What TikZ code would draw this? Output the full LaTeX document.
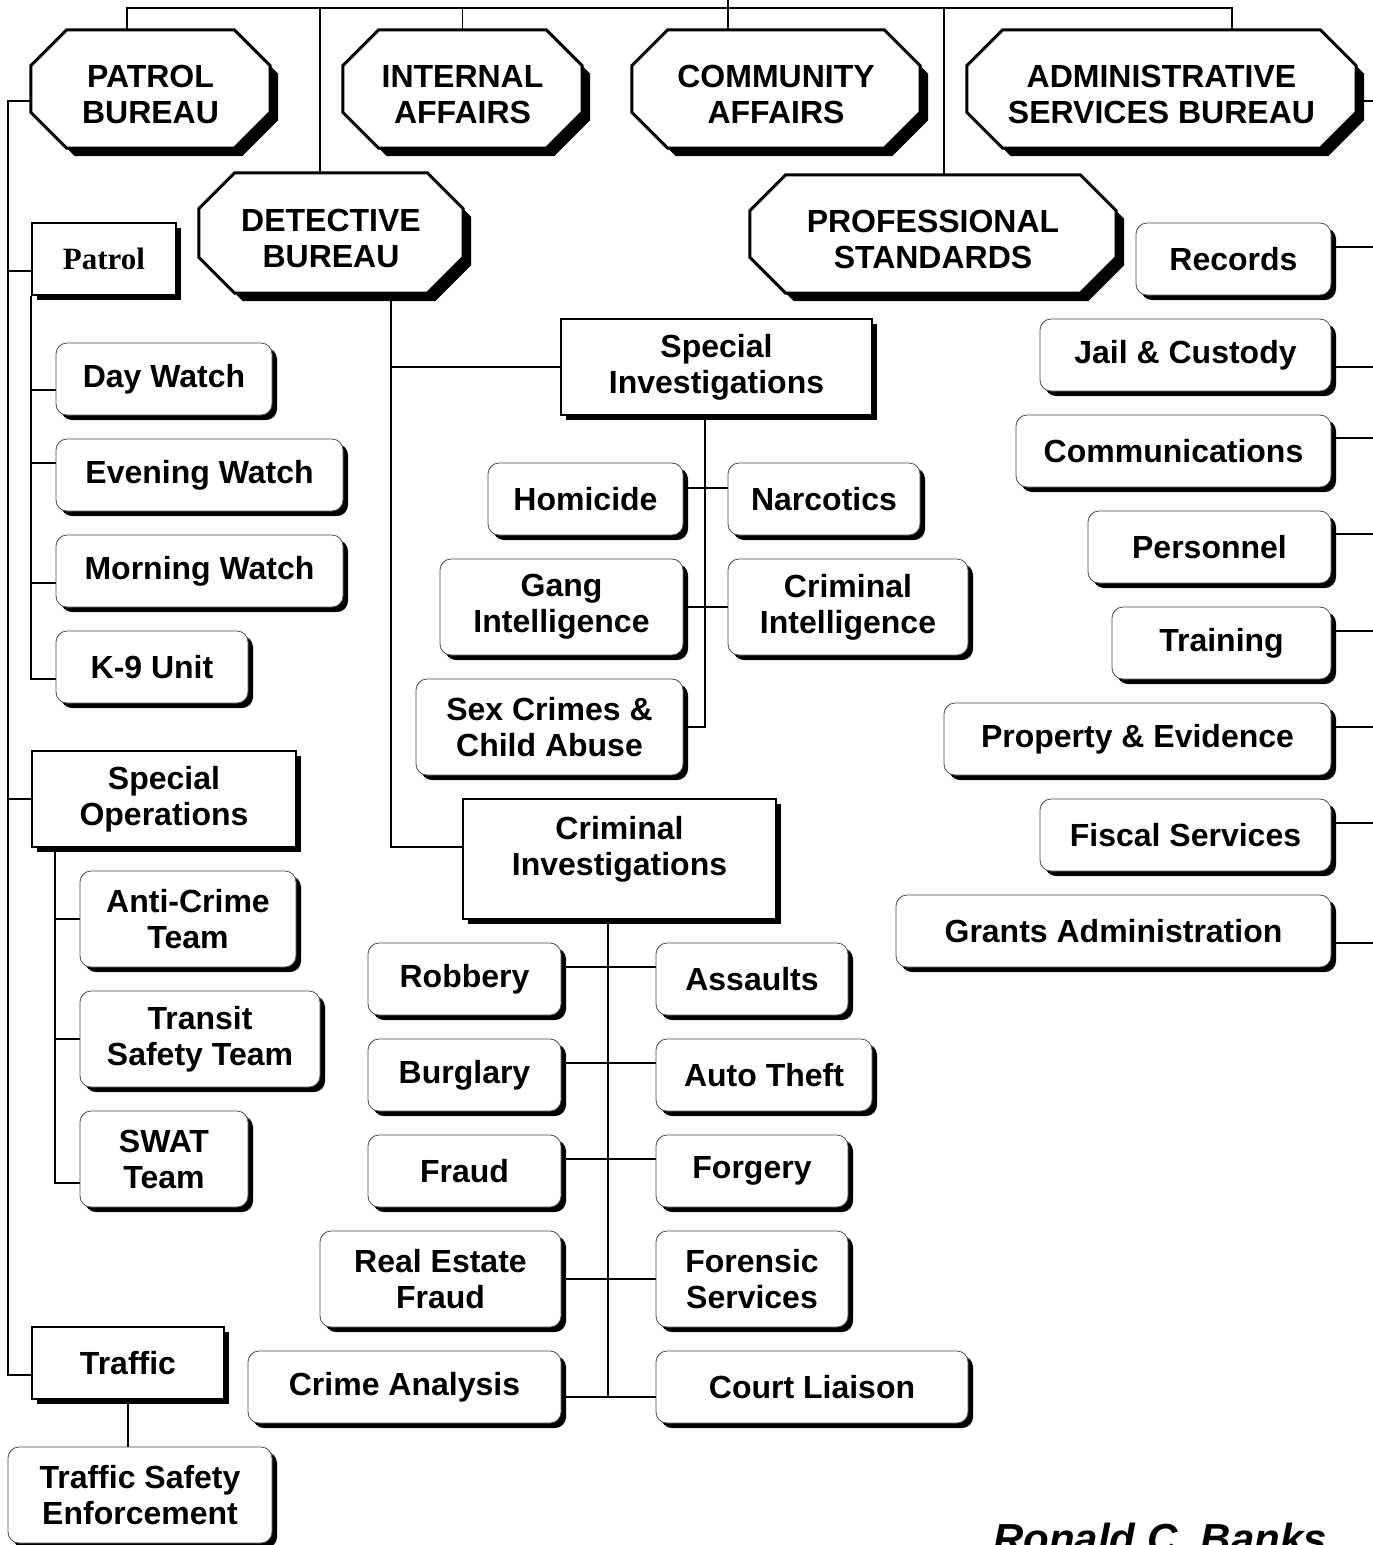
\documentclass[tikz,border=0pt]{standalone}
\usepackage{fontspec}
\setmainfont{Liberation Sans}
\newfontfamily\patrolfont{Liberation Serif}
\usepackage{tikz}
\usetikzlibrary{positioning, shadows, backgrounds, calc}

\begin{document}
\begin{tikzpicture}[x=1pt, y=-1pt,
  every node/.style={font=\bfseries\fontsize{32}{36}\selectfont, align=center, inner sep=0pt},
  link/.style={line width=1.6pt},
  bureau/.style={minimum height=118pt, text height=69pt, text depth=0pt},
  section/.style={draw, line width=2pt, fill=white, minimum height=72pt,
    drop shadow={shadow xshift=5pt, shadow yshift=-5pt, fill=black, opacity=1}},
  unit/.style={draw=black!70, line width=0.8pt, fill=white, rounded corners=11pt,
    minimum height=72pt,
    drop shadow={shadow xshift=5pt, shadow yshift=-5pt, fill=black, opacity=1}},
  tall/.style={minimum height=96pt}]

  \useasboundingbox (0,0) rectangle (1373,1545);

  % ---------- bureaus ----------
  \node[bureau, minimum width=239pt] (patrolb) at (150.5,89) {PATROL\\BUREAU};
  \node[bureau, minimum width=239pt] (internal) at (462.5,89) {INTERNAL\\AFFAIRS};
  \node[bureau, minimum width=288pt] (community) at (776,89) {COMMUNITY\\AFFAIRS};
  \node[bureau, minimum width=389pt] (admin) at (1161.5,89) {ADMINISTRATIVE\\SERVICES BUREAU};
  \node[bureau, minimum width=264pt, minimum height=120pt] (detective) at (331,233) {DETECTIVE\\BUREAU};
  \node[bureau, minimum width=366pt] (profstd) at (933,234) {PROFESSIONAL\\STANDARDS};

  % ---------- patrol bureau ----------
  \node[section, minimum width=144pt, font=\patrolfont\bfseries\fontsize{31}{36}\selectfont]
    (patrol) at (104,259) {Patrol};
  \node[unit, minimum width=216pt] (dayw) at (164,379) {Day Watch};
  \node[unit, minimum width=287pt] (evew) at (199.5,475) {Evening Watch};
  \node[unit, minimum width=287pt] (mornw) at (199.5,571) {Morning Watch};
  \node[unit, minimum width=192pt] (k9) at (152,667) {K-9 Unit};

  \node[section, tall, minimum width=264pt] (specops) at (164,799) {Special\\Operations};
  \node[unit, tall, minimum width=216pt] (anticrime) at (188,919) {Anti-Crime\\Team};
  \node[unit, tall, minimum width=240pt] (transit) at (200,1039) {Transit\\Safety Team};
  \node[unit, tall, minimum width=168pt] (swat) at (164,1159) {SWAT\\Team};

  \node[section, minimum width=192pt] (traffic) at (128,1363) {Traffic};
  \node[unit, tall, minimum width=264pt] (tse) at (140,1495) {Traffic Safety\\Enforcement};

  % ---------- detective bureau ----------
  \node[section, tall, minimum width=311pt] (specinv) at (716.5,367) {Special\\Investigations};
  \node[unit, minimum width=195pt] (homicide) at (585.5,499) {Homicide};
  \node[unit, minimum width=192pt] (narcotics) at (824,499) {Narcotics};
  \node[unit, tall, minimum width=243pt] (gangint) at (561.5,607) {Gang\\Intelligence};
  \node[unit, tall, minimum width=240pt] (crimint) at (848,607) {Criminal\\Intelligence};
  \node[unit, tall, minimum width=267pt] (sexcrimes) at (549.5,727) {Sex Crimes \&\\Child Abuse};

  \node[section, minimum width=313pt, minimum height=120pt, text depth=27pt] (critinv) at (619.5,859) {Criminal\\Investigations};
  \node[unit, minimum width=193pt] (robbery) at (464.5,979) {Robbery};
  \node[unit, minimum width=192pt] (assaults) at (752,979) {Assaults};
  \node[unit, minimum width=193pt] (burglary) at (464.5,1075) {Burglary};
  \node[unit, minimum width=216pt] (autotheft) at (764,1075) {Auto Theft};
  \node[unit, minimum width=193pt] (fraud) at (464.5,1171) {Fraud};
  \node[unit, minimum width=192pt] (forgery) at (752,1171) {Forgery};
  \node[unit, tall, minimum width=241pt] (refraud) at (440.5,1279) {Real Estate\\Fraud};
  \node[unit, tall, minimum width=192pt] (forensic) at (752,1279) {Forensic\\Services};
  \node[unit, minimum width=313pt] (crimeana) at (404.5,1387) {Crime Analysis};
  \node[unit, minimum width=312pt] (court) at (812,1387) {Court Liaison};

  % ---------- administrative services ----------
  \node[unit, minimum width=195pt] (records) at (1233.5,259) {Records};
  \node[unit, minimum width=291pt] (jail) at (1185.5,355) {Jail \& Custody};
  \node[unit, minimum width=315pt] (comms) at (1173.5,451) {Communications};
  \node[unit, minimum width=243pt] (personnel) at (1209.5,547) {Personnel};
  \node[unit, minimum width=219pt] (training) at (1221.5,643) {Training};
  \node[unit, minimum width=387pt] (property) at (1137.5,739) {Property \& Evidence};
  \node[unit, minimum width=291pt] (fiscal) at (1185.5,835) {Fiscal Services};
  \node[unit, minimum width=435pt] (grants) at (1113.5,931) {Grants Administration};

  \node[font=\bfseries\itshape\fontsize{42}{48}\selectfont, anchor=base] (sig) at (1160,1553) {Ronald C. Banks};

  \coordinate (chief) at (728,-4);
  \coordinate (bar) at (728,8);
  \coordinate (barl) at (127,8);
  \coordinate (barr) at (1232,8);
  \coordinate (detdrop) at (320,8);
  \coordinate (psdrop) at (944,8);

  % ---------- octagons ----------
  \begin{scope}[on background layer]
    \foreach \b in {patrolb, internal, community, admin, detective, profstd}
      \filldraw[fill=white, line width=3pt,
        drop shadow={shadow xshift=8pt, shadow yshift=-8pt, fill=black, opacity=1}]
        ([xshift=36pt]\b.north west) -- ([xshift=-36pt]\b.north east)
        -- ([yshift=-36pt]\b.north east) -- ([yshift=36pt]\b.south east)
        -- ([xshift=-36pt]\b.south east) -- ([xshift=36pt]\b.south west)
        -- ([yshift=36pt]\b.south west) -- ([yshift=-36pt]\b.north west) -- cycle;
  \end{scope}

  % ---------- connectors ----------
  \begin{scope}[on background layer]
    \draw[link] (chief) -- (bar);
    \draw[link] (patrolb.north -| barl) |- (barr) -- (barr |- admin.north);
    \draw[link] (internal.north) -- (internal.north |- bar);
    \draw[link] (community.north -| bar) -- (bar);
    \draw[link] (detective.north -| detdrop) -- (detdrop);
    \draw[link] (profstd.north -| psdrop) -- (psdrop);
    \draw[link] ([yshift=-12pt]admin.east) -- ++(40,0);

    % patrol bureau
    \draw[link] ([yshift=-12pt]patrolb.west) -- ++(-23,0) |- ([yshift=-12pt]traffic.west);
    \draw[link] ([yshift=-12pt]patrol.west) -- ++(-24,0);
    \draw[link] (specops.west) -- ++(-24,0);
    \draw[link] (patrol.south west) |- ([yshift=-12pt]k9.west);
    \foreach \n/\dy in {dayw/-11, evew/12, mornw/-12}
      \draw[link] ([yshift=\dy pt]\n.west) -| (patrol.south west);
    \draw[link] ([xshift=24pt]specops.south west) |- ([yshift=-24pt]swat.west);
    \foreach \n in {anticrime, transit}
      \draw[link] (\n.west) -| ([xshift=24pt]specops.south west);
    \draw[link] (traffic.south) -- (traffic.south |- tse.north);

    % detective bureau
    \draw[link] ([xshift=60pt]detective.south) |- ([yshift=12pt]critinv.west);
    \draw[link] (specinv.west) -| ([xshift=60pt]detective.south);
    \draw[link] ([xshift=-11.5pt]specinv.south) |- (sexcrimes.east);
    \draw[link] ([yshift=11pt]homicide.east) -- ([yshift=11pt]narcotics.west);
    \draw[link] (gangint.east) -- (crimint.west);
    \draw[link] ([xshift=-11.5pt]critinv.south) -- ++(0,478);
    \foreach \l/\r/\dy in {robbery/assaults/12, burglary/autotheft/12, fraud/forgery/12,
                           refraud/forensic/0, crimeana/court/-10}
      \draw[link] ([yshift=\dy pt]\l.east) -- ([yshift=\dy pt]\r.west);

    % administrative services
    \foreach \n/\dy in {records/12, jail/-12, comms/13, personnel/13, training/12,
                        property/12, fiscal/12, grants/-12}
      \draw[link] ([yshift=\dy pt]\n.east) -- ++(60,0);
  \end{scope}
\end{tikzpicture}
\end{document}
